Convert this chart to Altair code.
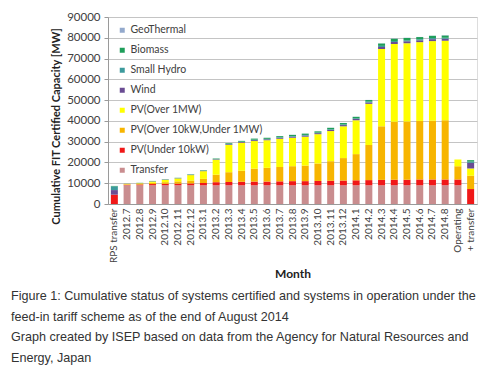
import altair as alt
import pandas as pd

categories = ["RPS transfer",
              "2012.7", "2012.8", "2012.9", "2012.10", "2012.11", "2012.12",
              "2013.1", "2013.2", "2013.3", "2013.4", "2013.5", "2013.6",
              "2013.7", "2013.8", "2013.9", "2013.10", "2013.11", "2013.12",
              "2014.1", "2014.2", "2014.3", "2014.4", "2014.5", "2014.6",
              "2014.7", "2014.8", "Operating", "+ transfer"]

transfer = [0,
            9000, 9000, 9000, 9000, 9000, 9000,
            9000, 9000, 9000, 9000, 9000, 9000,
            9000, 9000, 9000, 9000, 9000, 9000,
            9000, 9000, 9000, 9000, 9000, 9000,
            9000, 9000, 9000, 0]
pv_under_10kw = [4500,
                 300, 400, 600, 700, 800, 900,
                 1100, 1500, 1600, 1700, 1800, 1800,
                 1900, 2000, 2000, 2100, 2200, 2300,
                 2400, 2500, 2600, 2700, 2700, 2800,
                 2800, 2800, 2800, 7200]
pv_10kw_1mw = [0,
               200, 300, 600, 800, 1100, 1400,
               2000, 3600, 4700, 5300, 6200, 6600,
               6900, 7200, 7500, 8400, 9400, 10800,
               12600, 16900, 25800, 27900, 28000, 28200,
               28300, 28500, 6400, 6400]
pv_over_1mw = [0,
               200, 300, 600, 1100, 1400, 2600,
               3700, 7200, 13100, 13500, 13300, 13300,
               13600, 13700, 13900, 14100, 14500, 15300,
               16300, 19800, 37200, 37400, 37700, 37900,
               38300, 38300, 3200, 3500]
wind = [2200,
        50, 80, 120, 120, 130, 150,
        180, 220, 330, 330, 430, 430,
        470, 500, 540, 500, 580, 580,
        610, 680, 970, 940, 940, 900,
        940, 940, 0, 2700]
small_hydro = [1800,
               30, 40, 60, 60, 60, 80,
               100, 120, 180, 180, 240, 240,
               260, 280, 300, 280, 320, 320,
               340, 380, 540, 520, 520, 500,
               520, 520, 0, 600]
biomass = [200,
           20, 80, 120, 120, 120, 160,
           200, 240, 360, 360, 500, 500,
           540, 590, 630, 590, 670, 670,
           710, 800, 1140, 1090, 1090, 1050,
           1090, 1090, 0, 700]
geothermal = [0,
              0, 0, 0, 0, 0, 10,
              20, 20, 30, 30, 30, 30,
              30, 30, 30, 30, 30, 30,
              40, 40, 50, 50, 50, 50,
              50, 50, 0, 0]

series_names = ["Transfer", "PV(Under 10kW)", "PV(Over 10kW,Under 1MW)", "PV(Over 1MW)",
                "Wind", "Small Hydro", "Biomass", "GeoThermal"]
series_values = [transfer, pv_under_10kw, pv_10kw_1mw, pv_over_1mw,
                 wind, small_hydro, biomass, geothermal]
series_colors = ["#c98d8f", "#f01818", "#f7b500", "#ffff00",
                 "#6a4c93", "#3c9a9c", "#1e9e5a", "#93a9cc"]

legend_order = list(reversed(series_names))
legend_colors = list(reversed(series_colors))

y_ticks = [0, 10000, 20000, 30000, 40000, 50000, 60000, 70000, 80000, 90000]

caption = ["Figure 1: Cumulative status of systems certified and systems in operation under the",
           "feed-in tariff scheme as of the end of August 2014",
           "Graph created by ISEP based on data from the Agency for Natural Resources and",
           "Energy, Japan"]

rows = []
for idx, (name, vals) in enumerate(zip(series_names, series_values)):
    for cat, v in zip(categories, vals):
        rows.append({"category": cat, "series": name, "value": v, "stackorder": idx})
df = pd.DataFrame(rows)

chart = alt.Chart(df).mark_bar().encode(
    x=alt.X("category:N", sort=categories,
            scale=alt.Scale(paddingInner=0.45, paddingOuter=0.225),
            axis=alt.Axis(title="Month", labelAngle=270, labelFont="Lato", labelFontSize=10,
                          labelColor="#404040", labelPadding=4, ticks=False,
                          domainColor="#9a9a9a", titleFont="Lato", titleFontSize=12,
                          titleFontWeight="bold", titleColor="#222222", titleY=69,
                          titleBaseline="middle")),
    y=alt.Y("value:Q", stack="zero",
            scale=alt.Scale(domain=[0, 90000], nice=False),
            axis=alt.Axis(title="Cumulative FIT Certified Capacity [MW]", values=y_ticks,
                          format="d", labelFont="Lato", labelFontSize=11.5, labelColor="#404040",
                          tickSize=4, tickColor="#9a9a9a", domainColor="#9a9a9a",
                          gridColor="#c4c4c4", labelPadding=4,
                          titleFont="Lato", titleFontSize=11, titleFontWeight="bold",
                          titleColor="#222222", titleX=-52, titleY=109,
                          titleBaseline="middle")),
    color=alt.Color("series:N", title=None,
                    scale=alt.Scale(domain=legend_order, range=legend_colors),
                    legend=alt.Legend(orient="none", legendX=9, legendY=8, direction="vertical",
                                      symbolType="square", symbolSize=25, symbolStrokeWidth=0,
                                      labelFont="Lato", labelFontSize=10.5, labelColor="#404040",
                                      rowPadding=9, labelOffset=3, padding=0)),
    order=alt.Order("stackorder:Q", sort="ascending"),
).properties(
    width=369, height=187,
    padding={"left": 100, "top": 9, "right": 14, "bottom": 162},
    autosize=alt.AutoSizeParams(type="none"),
    title=alt.TitleParams(text=caption, orient="bottom", anchor="start", frame="group",
                          dx=-97, offset=11, font="Liberation Sans", fontSize=12.6,
                          fontWeight="normal", color="#333333", lineHeight=20.6),
).configure_view(strokeWidth=0).configure(background="white")

chart.save("out.html", embed_options={"renderer": "svg", "actions": False})
